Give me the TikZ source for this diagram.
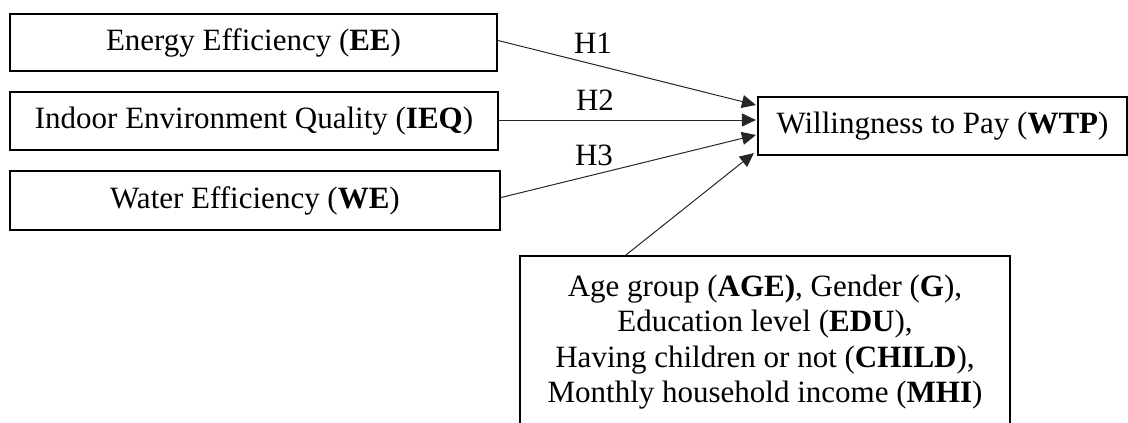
\documentclass[tikz,border=0pt]{standalone}
\usepackage{fontspec}
\setmainfont{Liberation Serif}
\usetikzlibrary{arrows.meta,calc}
\begin{document}
\begin{tikzpicture}[x=1pt,y=-1pt,
  box/.style={draw=black,line width=2.2pt,fill=white,inner sep=0pt,font=\fontsize{31}{35.5}\selectfont},
  conn/.style={draw=black!85,line width=1pt,-{Triangle[length=14pt,width=13pt]}},
  hlab/.style={font=\fontsize{31}{36}\selectfont,inner sep=0pt}]
\useasboundingbox (0,0) rectangle (1128,423);
\clip (0,0) rectangle (1128,423);
\node[box,minimum width=487,minimum height=57] (ee) at (253.5,42.5) {Energy Efficiency (\textbf{EE})};
\node[box,minimum width=488,minimum height=58] (ieq) at (254,121) {Indoor Environment Quality (\textbf{IEQ})};
\node[box,minimum width=490,minimum height=59] (we) at (255,200.5) {Water Efficiency (\textbf{WE})};
\node[box,minimum width=369,minimum height=58] (wtp) at (942.5,126) {Willingness to Pay (\textbf{WTP})};
\node[box,minimum width=490,minimum height=172,anchor=north,align=center] (ctrl) at (765,255)
  {Age group (\textbf{AGE)}, Gender (\textbf{G}),\\Education level (\textbf{EDU}),\\Having children or not (\textbf{CHILD}),\\Monthly household income (\textbf{MHI})};
\draw[conn] ($(ee.east)+(0,-2)$) -- ($(wtp.west)+(-1,-21)$);
\draw[conn] ($(ieq.east)+(0,-1)$) -- ($(wtp.west)+(-1,-6)$);
\draw[conn] ($(we.east)+(0,-3)$) -- ($(wtp.west)+(-1,9)$);
\draw[conn] ($(ctrl.north west)+(107,0)$) -- ($(wtp.south west)+(-3,-3)$);
\node[hlab] (h1) at (593,43) {H1};
\node[hlab] (h2) at (595,100) {H2};
\node[hlab] (h3) at (594,155) {H3};
\end{tikzpicture}
\end{document}
